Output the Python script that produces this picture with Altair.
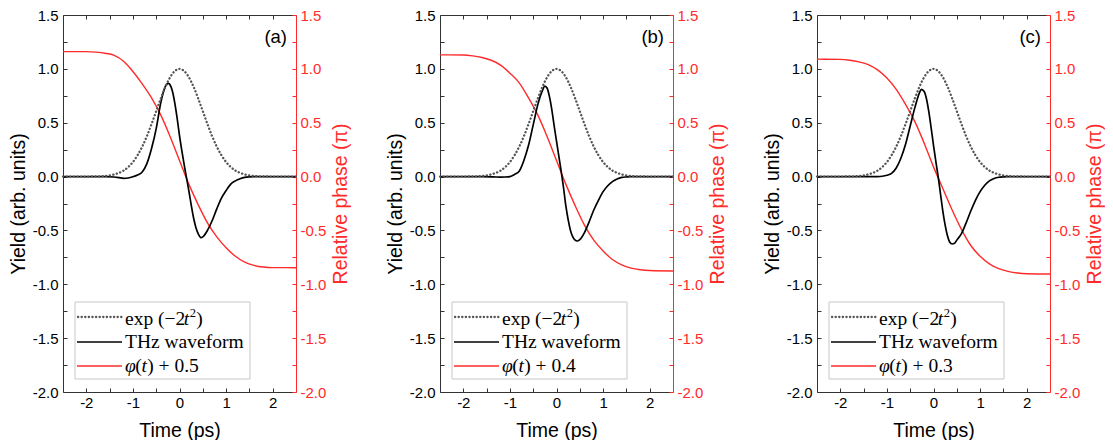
import altair as alt
import pandas as pd

# ---------------- data ----------------
GAUSS_T = [-2.5, -2.4, -2.3, -2.2, -2.1, -2.0, -1.9, -1.8, -1.7, -1.6, -1.5, -1.4, -1.3,
           -1.2, -1.1, -1.0, -0.9, -0.8, -0.7, -0.6, -0.5, -0.4, -0.3, -0.2, -0.1, 0.0,
           0.1, 0.2, 0.3, 0.4, 0.5, 0.6, 0.7, 0.8, 0.9, 1.0, 1.1, 1.2, 1.3, 1.4, 1.5,
           1.6, 1.7, 1.8, 1.9, 2.0, 2.1, 2.2, 2.3, 2.4, 2.5]
GAUSS_V = [0, 0, 0, 0, 0, 0, 0.001, 0.002, 0.003, 0.006, 0.011, 0.020, 0.034,
           0.056, 0.089, 0.135, 0.198, 0.278, 0.375, 0.487, 0.607, 0.726, 0.835, 0.923, 0.980, 1.0,
           0.980, 0.923, 0.835, 0.726, 0.607, 0.487, 0.375, 0.278, 0.198, 0.135, 0.089, 0.056, 0.034, 0.020, 0.011,
           0.006, 0.003, 0.002, 0.001, 0, 0, 0, 0, 0, 0]

THZ_T_A = [-2.5, -2.0, -1.6, -1.4, -1.3, -1.2, -1.1, -1.0, -0.9, -0.8, -0.7, -0.6, -0.5, -0.4,
           -0.3, -0.24, -0.2, -0.15, -0.1, -0.05, 0.0, 0.05, 0.1, 0.15, 0.2, 0.25, 0.3, 0.35,
           0.4, 0.46, 0.5, 0.6, 0.7, 0.8, 0.9, 1.0, 1.1, 1.2, 1.3, 1.4, 1.5, 1.6, 2.0, 2.5]
THZ_V_A = [0, 0, 0, -0.004, -0.010, -0.016, -0.013, -0.002, 0.015, 0.042, 0.12, 0.26, 0.445, 0.69,
           0.84, 0.866, 0.85, 0.79, 0.68, 0.54, 0.38, 0.24, 0.11, -0.01, -0.13, -0.26, -0.38, -0.47,
           -0.53, -0.567, -0.56, -0.50, -0.41, -0.30, -0.20, -0.13, -0.07, -0.04, -0.02, -0.007, -0.002, 0, 0, 0]

THZ_T_B = [-2.5, -2.0, -1.6, -1.4, -1.3, -1.2, -1.1, -1.0, -0.9, -0.8, -0.7, -0.6, -0.5, -0.4,
           -0.3, -0.25, -0.2, -0.15, -0.1, -0.05, 0.0, 0.05, 0.1, 0.15, 0.2, 0.25, 0.3, 0.35,
           0.4, 0.44, 0.5, 0.6, 0.7, 0.8, 0.9, 1.0, 1.1, 1.2, 1.3, 1.4, 1.5, 1.6, 2.0, 2.5]
THZ_V_B = [0, 0, 0, -0.002, -0.004, -0.005, -0.004, 0.0, 0.02, 0.05, 0.15, 0.29, 0.48, 0.67,
           0.80, 0.84, 0.82, 0.74, 0.62, 0.47, 0.33, 0.19, 0.05, -0.10, -0.27, -0.40, -0.50, -0.56,
           -0.59, -0.598, -0.585, -0.52, -0.42, -0.31, -0.22, -0.14, -0.085, -0.047, -0.022, -0.008, -0.003, 0, 0, 0]

THZ_T_C = [-2.5, -2.0, -1.6, -1.4, -1.3, -1.2, -1.1, -1.0, -0.9, -0.8, -0.7, -0.6, -0.5, -0.4,
           -0.3, -0.26, -0.2, -0.15, -0.1, -0.05, 0.0, 0.05, 0.1, 0.15, 0.2, 0.25, 0.3, 0.35,
           0.4, 0.45, 0.5, 0.6, 0.7, 0.8, 0.9, 1.0, 1.1, 1.2, 1.3, 1.4, 1.5, 1.6, 2.0, 2.5]
THZ_V_C = [0, 0, 0, 0, 0, 0, 0.003, 0.012, 0.03, 0.08, 0.17, 0.30, 0.47, 0.64,
           0.78, 0.81, 0.79, 0.72, 0.60, 0.45, 0.29, 0.14, 0.0, -0.16, -0.32, -0.45, -0.55, -0.61,
           -0.626, -0.62, -0.59, -0.53, -0.43, -0.32, -0.22, -0.14, -0.08, -0.04, -0.018, -0.006, -0.002, 0, 0, 0]

PHASE_T = [-2.5, -2.0, -1.8, -1.6, -1.4, -1.2, -1.0, -0.8, -0.6, -0.4, -0.2, 0.0,
           0.2, 0.4, 0.6, 0.8, 1.0, 1.2, 1.4, 1.6, 1.8, 2.0, 2.5]
PHASE_A = [1.16, 1.16, 1.155, 1.145, 1.125, 1.07, 0.975, 0.86, 0.73, 0.57, 0.37, 0.15,
           -0.07, -0.26, -0.43, -0.56, -0.66, -0.74, -0.795, -0.825, -0.84, -0.845, -0.846]
PHASE_B = [1.13, 1.128, 1.12, 1.105, 1.08, 1.035, 0.96, 0.87, 0.73, 0.57, 0.37, 0.15,
           -0.07, -0.27, -0.45, -0.59, -0.69, -0.77, -0.82, -0.85, -0.865, -0.872, -0.876]
PHASE_C = [1.09, 1.088, 1.08, 1.065, 1.04, 0.99, 0.915, 0.81, 0.67, 0.51, 0.31, 0.09,
           -0.11, -0.31, -0.49, -0.64, -0.74, -0.81, -0.855, -0.88, -0.895, -0.902, -0.905]

PANEL_TAGS = ["(a)", "(b)", "(c)"]
PHASE_OFFSETS = ["0.5", "0.4", "0.3"]

Y_TICKS = [-2.0, -1.75, -1.5, -1.25, -1.0, -0.75, -0.5, -0.25, 0.0, 0.25, 0.5, 0.75, 1.0, 1.25, 1.5]
X_TICKS = [-2.0, -1.5, -1.0, -0.5, 0.0, 0.5, 1.0, 1.5, 2.0]

# ---------------- style ----------------
FRAME = "#333333"
RED = "#ff2b2b"
DOT = "#555555"
DOT_DASH = [0.2, 3.4]
SANS = "Liberation Sans"
SERIF = "Liberation Serif"
W, H = 233, 377
TICK = {"expr": "-4"}

Y_LABEL = ("abs(datum.value*2 - round(datum.value*2)) < 0.001 ? "
           "((datum.value < -0.001 ? '-' : '') + format(abs(datum.value), '.1f')) : ''")
X_LABEL = ("abs(datum.value - round(datum.value)) < 0.001 ? "
           "((datum.value < -0.001 ? '-' : '') + format(abs(datum.value), 'd')) : ''")

x_scale = alt.Scale(domain=[-2.5, 2.5], nice=False, zero=False)
y_scale = alt.Scale(domain=[-2.0, 1.5], nice=False, zero=False)

common = dict(grid=False, tickSize=TICK, tickWidth=1, domainWidth=1,
              labelFont=SANS, labelFontSize=15, titleFont=SANS, titleFontSize=19.5,
              titleFontWeight="normal", labelOverlap=False, labelFlush=False)

bottom_axis = alt.Axis(orient="bottom", values=X_TICKS, labelExpr=X_LABEL, title="Time (ps)",
                       labelPadding=7, titlePadding=11, domainColor=FRAME, tickColor=FRAME,
                       labelColor="black", titleColor="black", **common)
top_axis = alt.Axis(orient="top", values=X_TICKS, labels=False, title=None,
                    domainColor=FRAME, tickColor=FRAME, **common)
left_axis = alt.Axis(orient="left", values=Y_TICKS, labelExpr=Y_LABEL, title="Yield (arb. units)",
                     labelPadding=9, titlePadding=4, domainColor=FRAME, tickColor=FRAME,
                     labelColor="black", titleColor="black", **common)
right_axis = alt.Axis(orient="right", values=Y_TICKS, labelExpr=Y_LABEL, title="Relative phase (π)",
                      labelPadding=8, titlePadding=6, titleAngle=270, titleBaseline="top",
                      domainColor=RED, tickColor=RED, labelColor=RED, titleColor=RED, **common)

one = pd.DataFrame({"k": [0]})


def text_piece(s, x, y, size=19.5, style="normal"):
    return alt.Chart(one).mark_text(font=SERIF, fontSize=size, fontStyle=style, align="left",
                                    baseline="alphabetic", color="black").encode(
        x=alt.value(x), y=alt.value(y), text=alt.value(s))


def panel(tag, thz_t, thz_v, ph_v, off):
    gdf = pd.DataFrame({"t": GAUSS_T, "v": GAUSS_V})
    tdf = pd.DataFrame({"t": thz_t, "v": thz_v})
    rdf = pd.DataFrame({"t": PHASE_T, "v": ph_v})

    red = alt.Chart(rdf).mark_line(color=RED, strokeWidth=1.4, interpolate="monotone").encode(
        x=alt.X("t:Q", scale=x_scale, axis=None),
        y=alt.Y("v:Q", scale=y_scale, axis=right_axis))
    thz = alt.Chart(tdf).mark_line(color="black", strokeWidth=1.7, interpolate="monotone").encode(
        x=alt.X("t:Q", scale=x_scale, axis=top_axis),
        y=alt.Y("v:Q", scale=y_scale, axis=None))
    gauss = alt.Chart(gdf).mark_line(color=DOT, strokeWidth=2.3, strokeDash=DOT_DASH,
                                     strokeCap="round", interpolate="monotone").encode(
        x=alt.X("t:Q", scale=x_scale, axis=bottom_axis),
        y=alt.Y("v:Q", scale=y_scale, axis=left_axis))

    label = alt.Chart(one).mark_text(font=SANS, fontSize=18.5, align="right",
                                     baseline="alphabetic", color="black").encode(
        x=alt.value(224), y=alt.value(27.8), text=alt.value(tag))

    box = alt.Chart(one).mark_rect(fill="white", stroke="#c8c8c8", strokeWidth=1).encode(
        x=alt.value(12), x2=alt.value(187), y=alt.value(287), y2=alt.value(364))
    sym1 = alt.Chart(one).mark_rule(color=DOT, strokeWidth=2.3, strokeDash=DOT_DASH,
                                    strokeCap="round").encode(
        x=alt.value(15), x2=alt.value(59), y=alt.value(302))
    sym2 = alt.Chart(one).mark_rule(color="black", strokeWidth=1.7).encode(
        x=alt.value(14), x2=alt.value(59), y=alt.value(327))
    sym3 = alt.Chart(one).mark_rule(color=RED, strokeWidth=1.4).encode(
        x=alt.value(14), x2=alt.value(59), y=alt.value(351))

    tx = 62
    texts = [
        text_piece("exp (\u22122", tx, 309.5),
        text_piece("t", tx + 58.7, 309.5, style="italic"),
        text_piece("2", tx + 64.8, 301.5, size=12.5),
        text_piece(")", tx + 71.2, 309.5),
        text_piece("THz waveform", tx, 333.3),
        text_piece("\u03c6", tx, 356.7, style="italic"),
        text_piece("(", tx + 10.2, 356.7),
        text_piece("t", tx + 16.6, 356.7, style="italic"),
        text_piece(") + " + off, tx + 22.2, 356.7),
    ]

    layer = alt.layer(red, thz, gauss, label, box, sym1, sym2, sym3, *texts).properties(
        width=W, height=H).resolve_scale(y="independent").resolve_axis(x="independent")
    return layer


panels = [
    panel(PANEL_TAGS[0], THZ_T_A, THZ_V_A, PHASE_A, PHASE_OFFSETS[0]),
    panel(PANEL_TAGS[1], THZ_T_B, THZ_V_B, PHASE_B, PHASE_OFFSETS[1]),
    panel(PANEL_TAGS[2], THZ_T_C, THZ_V_C, PHASE_C, PHASE_OFFSETS[2]),
]

chart = alt.hconcat(*panels, spacing=34).properties(
    padding={"left": 0, "top": 0, "right": 0, "bottom": 0}
).configure_view(stroke=None)

chart.save("out.html", embed_options={"renderer": "svg", "actions": False})
